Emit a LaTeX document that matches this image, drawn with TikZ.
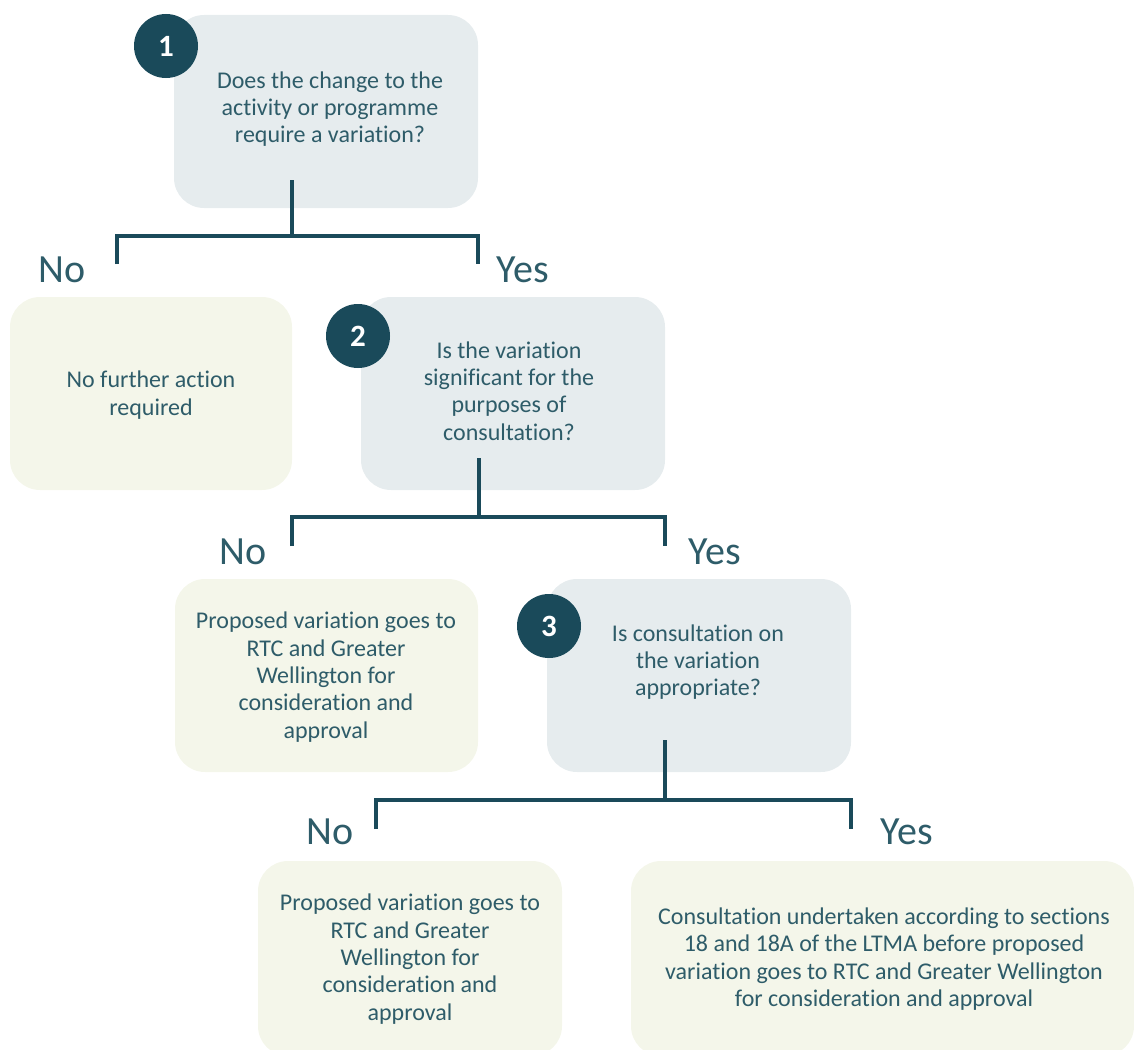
\documentclass[tikz,border=0pt]{standalone}
\usepackage{fontspec}
\setmainfont{Carlito}[Ligatures=NoCommon]
\definecolor{teal}{HTML}{1A4A5A}
\definecolor{txt}{HTML}{2E5C69}
\definecolor{greybox}{HTML}{E6ECEE}
\definecolor{creambox}{HTML}{F4F6EA}
\begin{document}
\begin{tikzpicture}[x=1pt,y=-1pt,
  qbox/.style={fill=greybox,rounded corners=30pt},
  abox/.style={fill=creambox,rounded corners=30pt},
  body/.style={text=txt,align=center,font=\fontsize{24}{27.3}\selectfont,inner sep=0pt},
  num/.style={circle,fill=teal,text=white,minimum size=64pt,inner sep=0pt,font=\fontsize{31}{34}\selectfont\bfseries},
  lbl/.style={text=txt,font=\fontsize{40}{44}\selectfont,inner sep=0pt},
  conn/.style={draw=teal,line width=4.5pt,line join=miter}]
\useasboundingbox (0,0) rectangle (1134,1049);
% boxes
\fill[qbox] (174,15) rectangle (478,208);
\node[num] (n1) at (166,46) {1};
\node[body] (t1) at (330,109) {Does the change to the\\activity or programme\\require a variation?};

\fill[abox] (10,297) rectangle (292,490);
\node[body] (t1n) at (151,395) {No further action\\required};

\fill[qbox] (361,297) rectangle (665,490);
\node[num] (n2) at (358,336) {2};
\node[body] (t2) at (509,391) {Is the variation\\significant for the\\purposes of\\consultation?};

\fill[abox] (175,579) rectangle (478,772);
\node[body] (t2n) at (326,677) {Proposed variation goes to\\RTC and Greater\\Wellington for\\consideration and\\approval};

\fill[qbox] (547,579) rectangle (851,772);
\node[num] (n3) at (549,626) {3};
\node[body] (t3) at (698,662) {Is consultation on\\the variation\\appropriate?};

\fill[abox] (258,861) rectangle (562,1056);
\node[body] (t3n) at (410,959) {Proposed variation goes to\\RTC and Greater\\Wellington for\\consideration and\\approval};

\fill[abox] (631,861) rectangle (1134,1056);
\node[body] (t3y) at (884,959) {Consultation undertaken according to sections\\18 and 18A of the LTMA before proposed\\variation goes to RTC and Greater Wellington\\for consideration and approval};

% connectors
\coordinate (s1) at (292,180); \coordinate (j1) at (292,236);
\coordinate (l1) at (117,264); \coordinate (r1) at (478,264);
\draw[conn] (s1) -- (j1);
\draw[conn] (l1) |- (j1) -| (r1);
\node[lbl] (no1) at (62,270) {No};
\node[lbl] (yes1) at (523,270) {Yes};

\coordinate (s2) at (479,458); \coordinate (j2) at (479,517);
\coordinate (l2) at (292,546); \coordinate (r2) at (665,546);
\draw[conn] (s2) -- (j2);
\draw[conn] (l2) |- (j2) -| (r2);
\node[lbl] (no2) at (243,552) {No};
\node[lbl] (yes2) at (715,552) {Yes};

\coordinate (s3) at (665,740); \coordinate (j3) at (665,800);
\coordinate (l3) at (376,829); \coordinate (r3) at (851,829);
\draw[conn] (s3) -- (j3);
\draw[conn] (l3) |- (j3) -| (r3);
\node[lbl] (no3) at (330,832) {No};
\node[lbl] (yes3) at (907,832) {Yes};
\end{tikzpicture}
\end{document}
